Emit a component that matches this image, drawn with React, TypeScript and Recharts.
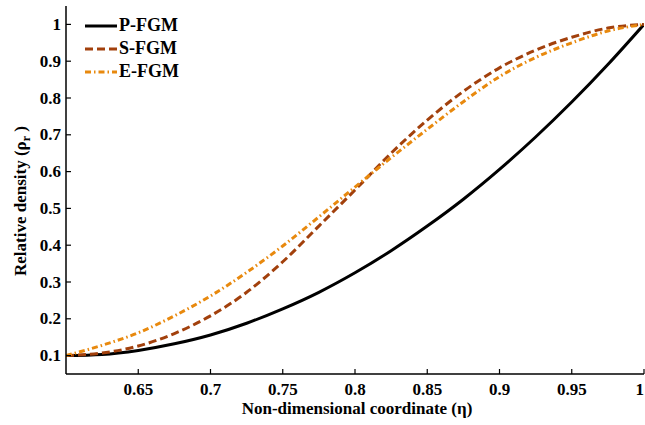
import React from 'react';
import { LineChart, Line, XAxis, YAxis, Legend, Label } from 'recharts';

// non-dimensional coordinate (eta) and the three density profiles
const eta = [0.6, 0.625, 0.65, 0.675, 0.7, 0.725, 0.75, 0.775, 0.8, 0.825, 0.85, 0.875, 0.9, 0.925, 0.95, 0.975, 1];
const pFgm = [0.1, 0.103, 0.114, 0.132, 0.156, 0.188, 0.227, 0.272, 0.325, 0.385, 0.452, 0.525, 0.606, 0.694, 0.789, 0.891, 1];
const sFgm = [0.1, 0.107, 0.126, 0.16, 0.208, 0.272, 0.355, 0.452, 0.55, 0.65, 0.74, 0.818, 0.882, 0.93, 0.965, 0.99, 1];
const eFgm = [0.1, 0.128, 0.162, 0.208, 0.262, 0.326, 0.398, 0.477, 0.558, 0.638, 0.715, 0.79, 0.858, 0.91, 0.95, 0.982, 1];

const xTicks = [0.65, 0.7, 0.75, 0.8, 0.85, 0.9, 0.95, 1];
const yTicks = [0.1, 0.2, 0.3, 0.4, 0.5, 0.6, 0.7, 0.8, 0.9, 1];

const series = [
  { key: 'p', name: 'P-FGM', color: '#000000', dash: undefined, width: 3 },
  { key: 's', name: 'S-FGM', color: '#A2400C', dash: '8 4', width: 3 },
  { key: 'e', name: 'E-FGM', color: '#E8890E', dash: '6 3 1.5 3', width: 3 },
];

const data = eta.map((v, i) => ({ eta: v, p: pFgm[i], s: sFgm[i], e: eFgm[i] }));

const FONT = 'Liberation Serif';
const txt = { fontFamily: FONT, fontWeight: 700 as const };

const BottomTick = (props: any) => {
  const { x, y, payload } = props;
  const last = payload.value === 1;
  return (
    <g>
      <line x1={x} y1={y} x2={x} y2={y - 5} stroke="#000" strokeWidth={1.2} />
      <text x={x} y={y + 21} textAnchor={last ? 'end' : 'middle'} style={{ ...txt, fontSize: 17 }} fill="#000">
        {payload.value}
      </text>
    </g>
  );
};

const TopTick = (props: any) => {
  const { x, y } = props;
  return <line x1={x} y1={y} x2={x} y2={y + 5} stroke="#000" strokeWidth={1.2} />;
};

const LeftTick = (props: any) => {
  const { x, y, payload } = props;
  return (
    <g>
      <line x1={x} y1={y} x2={x + 5} y2={y} stroke="#000" strokeWidth={1.2} />
      <text x={x - 5} y={y + 5.5} textAnchor="end" style={{ ...txt, fontSize: 17 }} fill="#000">
        {payload.value}
      </text>
    </g>
  );
};

const RightTick = (props: any) => {
  const { x, y } = props;
  return <line x1={x} y1={y} x2={x - 5} y2={y} stroke="#000" strokeWidth={1.2} />;
};

const renderLegend = () => (
  <div style={{ ...txt, fontSize: 18, lineHeight: '23px' }}>
    {series.map((s) => (
      <div key={s.key} style={{ display: 'flex', alignItems: 'center', height: 23 }}>
        <svg width={34} height={10} style={{ marginRight: 1 }}>
          <line x1={1} y1={5} x2={33} y2={5} stroke={s.color} strokeWidth={s.width} strokeDasharray={s.dash} />
        </svg>
        <span>{s.name}</span>
      </div>
    ))}
  </div>
);

const App: React.FC = () => {
  return (
    <div style={{ position: 'absolute', left: 0, top: 0, width: 645, height: 425, background: '#fff' }}>
      <LineChart width={645} height={425} data={data} margin={{ top: 6, right: 1, bottom: 0, left: 0 }}>
        <XAxis
          dataKey="eta"
          type="number"
          domain={[0.6, 1]}
          ticks={xTicks}
          interval={0}
          allowDataOverflow
          height={51}
          tickSize={0}
          tickMargin={0}
          tick={<BottomTick />}
          axisLine={{ stroke: '#000', strokeWidth: 1.5 }}
        >
          <Label
            content={(p: any) => {
              const vb = p.viewBox;
              return (
                <text x={vb.x + vb.width / 2 + 2} y={414} textAnchor="middle" style={{ ...txt, fontSize: 17 }} fill="#000">
                  Non-dimensional coordinate (η)
                </text>
              );
            }}
          />
        </XAxis>
        <XAxis
          xAxisId="top"
          orientation="top"
          dataKey="eta"
          type="number"
          domain={[0.6, 1]}
          ticks={xTicks}
          interval={0}
          allowDataOverflow
          height={0}
          tickSize={0}
          tickMargin={0}
          tick={<TopTick />}
          axisLine={{ stroke: '#000', strokeWidth: 1.5 }}
        />
        <YAxis
          type="number"
          domain={[0.05, 1.05]}
          ticks={yTicks}
          interval={0}
          allowDataOverflow
          width={66}
          tickSize={0}
          tickMargin={0}
          tick={<LeftTick />}
          axisLine={{ stroke: '#000', strokeWidth: 1.5 }}
        >
          <Label
            content={(p: any) => {
              const vb = p.viewBox;
              const cy = vb.y + vb.height / 2 + 11;
              return (
                <text
                  transform={`translate(26, ${cy}) rotate(-90)`}
                  x={0}
                  y={0}
                  textAnchor="middle"
                  style={{ ...txt, fontSize: 17 }}
                  fill="#000"
                >
                  <tspan>Relative density (ρ</tspan>
                  <tspan dy={4} style={{ fontSize: 12 }}>r</tspan>
                  <tspan dy={-4}> )</tspan>
                </text>
              );
            }}
          />
        </YAxis>
        <YAxis
          yAxisId="right"
          orientation="right"
          type="number"
          domain={[0.05, 1.05]}
          ticks={yTicks}
          interval={0}
          allowDataOverflow
          width={0}
          tickSize={0}
          tickMargin={0}
          tick={<RightTick />}
          axisLine={{ stroke: '#000', strokeWidth: 1.5 }}
        />
        <Legend
          content={renderLegend}
          layout="vertical"
          align="center"
          verticalAlign="middle"
          wrapperStyle={{ left: 84, top: 14, width: 'auto', height: 'auto' }}
        />
        {series.map((s) => (
          <Line
            key={s.key}
            dataKey={s.key}
            name={s.name}
            type="monotone"
            stroke={s.color}
            strokeWidth={s.width}
            strokeDasharray={s.dash}
            dot={false}
            activeDot={false}
            isAnimationActive={false}
          />
        ))}
      </LineChart>
    </div>
  );
};

export default App;
